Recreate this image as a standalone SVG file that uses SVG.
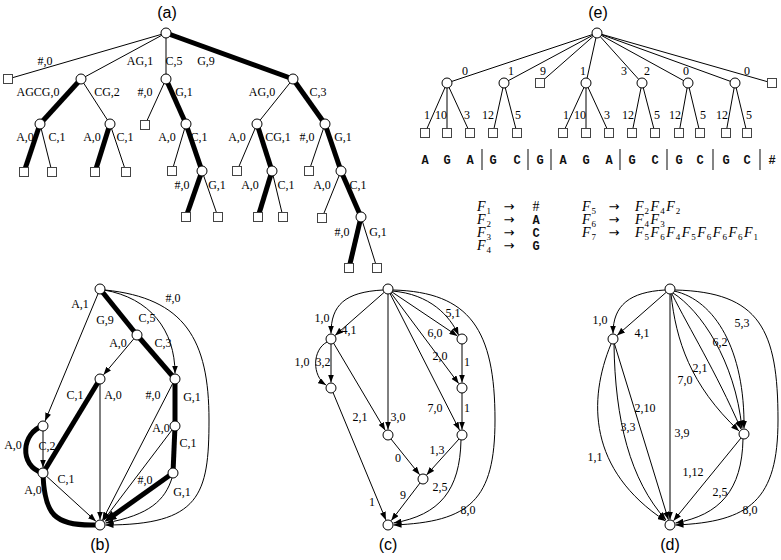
<svg xmlns="http://www.w3.org/2000/svg" width="781" height="560" viewBox="0 0 781 560">
<style>
.lbl{font-family:"Liberation Serif",serif;font-size:12px;fill:#000;text-anchor:middle}
.pan{font-family:"Liberation Sans",Arial,sans-serif;font-size:16px;text-anchor:middle;fill:#000}
.tt{font-family:"Liberation Mono",monospace;font-size:12px;font-weight:bold;text-anchor:middle;fill:#111}
.m{font-family:"Liberation Serif",serif;font-size:14px;font-style:italic;fill:#000}
.s{font-size:9px;font-style:normal}
.ar{font-family:"DejaVu Sans",sans-serif;font-size:13px;text-anchor:middle;fill:#000}
.e{stroke:#000;stroke-width:1;fill:none}
.t{stroke:#000;stroke-width:5;fill:none}
.a{marker-end:url(#ah)}
.n{fill:#fff;stroke:#000;stroke-width:1}
.sq{fill:#fff;stroke:#444;stroke-width:1}
.bar{stroke:#333;stroke-width:1.2}
</style>
<defs>
<marker id="ah" viewBox="0 0 8 6" refX="8" refY="3" markerWidth="8" markerHeight="6" orient="auto" markerUnits="userSpaceOnUse"><path d="M0,0 L8,3 L0,6 z" fill="#000"/></marker>
<marker id="ahT" viewBox="0 0 12 10" refX="2" refY="5" markerWidth="12" markerHeight="10" orient="auto" markerUnits="userSpaceOnUse"><path d="M0,0 L12,5 L0,10 z" fill="#000"/></marker>
</defs>

<g id="panel-labels">
<text class="pan" x="167" y="18">(a)</text>
<text class="pan" x="598" y="18">(e)</text>
<text class="pan" x="100" y="550">(b)</text>
<text class="pan" x="388" y="550">(c)</text>
<text class="pan" x="670" y="550">(d)</text>
</g>

<!-- (a) connectors -->
<g id="a-edges">
<line class="t" x1="166" y1="33" x2="293" y2="79"/>
<line class="t" x1="81" y1="79" x2="40" y2="124"/>
<line class="t" x1="40" y1="124" x2="24" y2="172"/>
<line class="t" x1="110" y1="124" x2="95" y2="172"/>
<line class="t" x1="166" y1="79" x2="186" y2="124"/>
<line class="t" x1="186" y1="124" x2="202" y2="171"/>
<line class="t" x1="202" y1="171" x2="186" y2="217"/>
<line class="t" x1="293" y1="79" x2="325" y2="124"/>
<line class="t" x1="257" y1="124" x2="272" y2="171"/>
<line class="t" x1="272" y1="171" x2="258" y2="217"/>
<line class="t" x1="325" y1="124" x2="341" y2="171"/>
<line class="t" x1="341" y1="171" x2="361" y2="217"/>
<line class="t" x1="361" y1="217" x2="349" y2="268"/>
<line class="e" x1="166" y1="33" x2="8" y2="79"/>
<line class="e" x1="166" y1="33" x2="81" y2="79"/>
<line class="e" x1="166" y1="33" x2="166" y2="79"/>
<line class="e" x1="81" y1="79" x2="110" y2="124"/>
<line class="e" x1="40" y1="124" x2="52" y2="172"/>
<line class="e" x1="110" y1="124" x2="126" y2="172"/>
<line class="e" x1="166" y1="79" x2="145" y2="125"/>
<line class="e" x1="186" y1="124" x2="172" y2="171"/>
<line class="e" x1="202" y1="171" x2="218" y2="217"/>
<line class="e" x1="293" y1="79" x2="257" y2="124"/>
<line class="e" x1="257" y1="124" x2="237" y2="171"/>
<line class="e" x1="272" y1="171" x2="283" y2="217"/>
<line class="e" x1="325" y1="124" x2="309" y2="171"/>
<line class="e" x1="341" y1="171" x2="322" y2="218"/>
<line class="e" x1="361" y1="217" x2="377" y2="268"/>
</g>
<g id="a-labels">
<text class="lbl" x="45" y="65">#,0</text>
<text class="lbl" x="140" y="65">AG,1</text>
<text class="lbl" x="174" y="65">C,5</text>
<text class="lbl" x="206" y="65">G,9</text>
<text class="lbl" x="38" y="96">AGCG,0</text>
<text class="lbl" x="107" y="96">CG,2</text>
<text class="lbl" x="145" y="96">#,0</text>
<text class="lbl" x="184" y="96">G,1</text>
<text class="lbl" x="262" y="96">AG,0</text>
<text class="lbl" x="318" y="96">C,3</text>
<text class="lbl" x="25" y="141">A,0</text>
<text class="lbl" x="57" y="141">C,1</text>
<text class="lbl" x="92" y="141">A,0</text>
<text class="lbl" x="125" y="141">C,1</text>
<text class="lbl" x="167" y="141">A,0</text>
<text class="lbl" x="199" y="141">C,1</text>
<text class="lbl" x="237" y="141">A,0</text>
<text class="lbl" x="278" y="141">CG,1</text>
<text class="lbl" x="307" y="141">#,0</text>
<text class="lbl" x="343" y="141">G,1</text>
<text class="lbl" x="182" y="189">#,0</text>
<text class="lbl" x="217" y="189">G,1</text>
<text class="lbl" x="250" y="189">A,0</text>
<text class="lbl" x="286" y="189">C,1</text>
<text class="lbl" x="322" y="189">A,0</text>
<text class="lbl" x="358" y="189">C,1</text>
<text class="lbl" x="342" y="236">#,0</text>
<text class="lbl" x="378" y="236">G,1</text>
</g>
<g id="a-nodes">
<circle class="n" cx="166" cy="33" r="5"/>
<circle class="n" cx="81" cy="79" r="5"/>
<circle class="n" cx="166" cy="79" r="5"/>
<circle class="n" cx="293" cy="79" r="5"/>
<circle class="n" cx="40" cy="124" r="5"/>
<circle class="n" cx="110" cy="124" r="5"/>
<circle class="n" cx="186" cy="124" r="5"/>
<circle class="n" cx="257" cy="124" r="5"/>
<circle class="n" cx="325" cy="124" r="5"/>
<circle class="n" cx="202" cy="171" r="5"/>
<circle class="n" cx="272" cy="171" r="5"/>
<circle class="n" cx="341" cy="171" r="5"/>
<circle class="n" cx="361" cy="217" r="5"/>
<rect class="sq" x="3.5" y="74.5" width="9" height="9"/>
<rect class="sq" x="19.5" y="167.5" width="9" height="9"/>
<rect class="sq" x="47.5" y="167.5" width="9" height="9"/>
<rect class="sq" x="90.5" y="167.5" width="9" height="9"/>
<rect class="sq" x="121.5" y="167.5" width="9" height="9"/>
<rect class="sq" x="140.5" y="120.5" width="9" height="9"/>
<rect class="sq" x="167.5" y="166.5" width="9" height="9"/>
<rect class="sq" x="181.5" y="212.5" width="9" height="9"/>
<rect class="sq" x="213.5" y="212.5" width="9" height="9"/>
<rect class="sq" x="232.5" y="166.5" width="9" height="9"/>
<rect class="sq" x="253.5" y="212.5" width="9" height="9"/>
<rect class="sq" x="278.5" y="212.5" width="9" height="9"/>
<rect class="sq" x="304.5" y="166.5" width="9" height="9"/>
<rect class="sq" x="317.5" y="213.5" width="9" height="9"/>
<rect class="sq" x="344.5" y="263.5" width="9" height="9"/>
<rect class="sq" x="372.5" y="263.5" width="9" height="9"/>
</g>

<!-- (e) -->
<g id="e-edges">
<line class="e" x1="597" y1="33" x2="447" y2="83"/>
<line class="e" x1="597" y1="33" x2="504" y2="83"/>
<line class="e" x1="597" y1="33" x2="540" y2="83"/>
<line class="e" x1="597" y1="33" x2="586" y2="83"/>
<line class="e" x1="597" y1="33" x2="642" y2="83"/>
<line class="e" x1="597" y1="33" x2="688" y2="83"/>
<line class="e" x1="597" y1="33" x2="735" y2="83"/>
<line class="e" x1="597" y1="33" x2="772" y2="83"/>
<line class="e" x1="447" y1="83" x2="425" y2="133"/>
<line class="e" x1="447" y1="83" x2="447" y2="133"/>
<line class="e" x1="447" y1="83" x2="470" y2="133"/>
<line class="e" x1="504" y1="83" x2="493" y2="133"/>
<line class="e" x1="504" y1="83" x2="517" y2="133"/>
<line class="e" x1="586" y1="83" x2="563" y2="133"/>
<line class="e" x1="586" y1="83" x2="586" y2="133"/>
<line class="e" x1="586" y1="83" x2="609" y2="133"/>
<line class="e" x1="642" y1="83" x2="632" y2="133"/>
<line class="e" x1="642" y1="83" x2="655" y2="133"/>
<line class="e" x1="688" y1="83" x2="679" y2="133"/>
<line class="e" x1="688" y1="83" x2="700" y2="133"/>
<line class="e" x1="735" y1="83" x2="726" y2="133"/>
<line class="e" x1="735" y1="83" x2="747" y2="133"/>
</g>
<g id="e-labels">
<text class="lbl" x="465" y="75">0</text>
<text class="lbl" x="511" y="75">1</text>
<text class="lbl" x="543" y="75">9</text>
<text class="lbl" x="583" y="75">1</text>
<text class="lbl" x="624" y="75">3</text>
<text class="lbl" x="647" y="75">2</text>
<text class="lbl" x="686" y="75">0</text>
<text class="lbl" x="747" y="75">0</text>
<text class="lbl" x="427" y="119">1</text>
<text class="lbl" x="441" y="119">10</text>
<text class="lbl" x="467" y="119">3</text>
<text class="lbl" x="488" y="119">12</text>
<text class="lbl" x="518" y="119">5</text>
<text class="lbl" x="566" y="119">1</text>
<text class="lbl" x="580" y="119">10</text>
<text class="lbl" x="607" y="119">3</text>
<text class="lbl" x="628" y="119">12</text>
<text class="lbl" x="657" y="119">5</text>
<text class="lbl" x="675" y="119">12</text>
<text class="lbl" x="703" y="119">5</text>
<text class="lbl" x="722" y="119">12</text>
<text class="lbl" x="749" y="119">5</text>
</g>
<g id="e-nodes">
<circle class="n" cx="597" cy="33" r="5"/>
<circle class="n" cx="447" cy="83" r="5"/>
<circle class="n" cx="504" cy="83" r="5"/>
<circle class="n" cx="586" cy="83" r="5"/>
<circle class="n" cx="642" cy="83" r="5"/>
<circle class="n" cx="688" cy="83" r="5"/>
<circle class="n" cx="735" cy="83" r="5"/>
<rect class="sq" x="535.5" y="78.5" width="9" height="9"/>
<rect class="sq" x="767.5" y="78.5" width="9" height="9"/>
<rect class="sq" x="420.5" y="128.5" width="9" height="9"/>
<rect class="sq" x="442.5" y="128.5" width="9" height="9"/>
<rect class="sq" x="465.5" y="128.5" width="9" height="9"/>
<rect class="sq" x="488.5" y="128.5" width="9" height="9"/>
<rect class="sq" x="512.5" y="128.5" width="9" height="9"/>
<rect class="sq" x="558.5" y="128.5" width="9" height="9"/>
<rect class="sq" x="581.5" y="128.5" width="9" height="9"/>
<rect class="sq" x="604.5" y="128.5" width="9" height="9"/>
<rect class="sq" x="627.5" y="128.5" width="9" height="9"/>
<rect class="sq" x="650.5" y="128.5" width="9" height="9"/>
<rect class="sq" x="674.5" y="128.5" width="9" height="9"/>
<rect class="sq" x="695.5" y="128.5" width="9" height="9"/>
<rect class="sq" x="721.5" y="128.5" width="9" height="9"/>
<rect class="sq" x="742.5" y="128.5" width="9" height="9"/>
</g>
<g id="e-sequence">
<text class="tt" x="425" y="164">A</text>
<text class="tt" x="447" y="164">G</text>
<text class="tt" x="470" y="164">A</text>
<line class="bar" x1="482" y1="149" x2="482" y2="170"/>
<text class="tt" x="493" y="164">G</text>
<text class="tt" x="517" y="164">C</text>
<line class="bar" x1="528" y1="149" x2="528" y2="170"/>
<text class="tt" x="540" y="164">G</text>
<line class="bar" x1="551" y1="149" x2="551" y2="170"/>
<text class="tt" x="563" y="164">A</text>
<text class="tt" x="586" y="164">G</text>
<text class="tt" x="609" y="164">A</text>
<line class="bar" x1="620" y1="149" x2="620" y2="170"/>
<text class="tt" x="632" y="164">G</text>
<text class="tt" x="655" y="164">C</text>
<line class="bar" x1="667" y1="149" x2="667" y2="170"/>
<text class="tt" x="679" y="164">G</text>
<text class="tt" x="700" y="164">C</text>
<line class="bar" x1="713" y1="149" x2="713" y2="170"/>
<text class="tt" x="726" y="164">G</text>
<text class="tt" x="747" y="164">C</text>
<line class="bar" x1="760" y1="149" x2="760" y2="170"/>
<text class="tt" x="772" y="164">#</text>
</g>
<g id="grammar">
<text class="m" x="477" y="211">F<tspan class="s" dx="1" dy="2.5">1</tspan></text>
<text class="ar" x="509" y="211">→</text>
<text class="lbl" x="536" y="211" style="font-size:14px">#</text>
<text class="m" x="477" y="224">F<tspan class="s" dx="1" dy="2.5">2</tspan></text>
<text class="ar" x="509" y="224">→</text>
<text class="tt" x="536" y="224">A</text>
<text class="m" x="477" y="237">F<tspan class="s" dx="1" dy="2.5">3</tspan></text>
<text class="ar" x="509" y="237">→</text>
<text class="tt" x="536" y="237">C</text>
<text class="m" x="477" y="250">F<tspan class="s" dx="1" dy="2.5">4</tspan></text>
<text class="ar" x="509" y="250">→</text>
<text class="tt" x="536" y="250">G</text>
<text class="m" x="582" y="211">F<tspan class="s" dx="1" dy="2.5">5</tspan></text>
<text class="ar" x="614" y="211">→</text>
<text class="m" x="635" y="211">F<tspan class="s" dx="1" dy="2.5">2</tspan><tspan dx="1.5" dy="-2.5">F</tspan><tspan class="s" dx="1" dy="2.5">4</tspan><tspan dx="1.5" dy="-2.5">F</tspan><tspan class="s" dx="1" dy="2.5">2</tspan></text>
<text class="m" x="582" y="224">F<tspan class="s" dx="1" dy="2.5">6</tspan></text>
<text class="ar" x="614" y="224">→</text>
<text class="m" x="635" y="224">F<tspan class="s" dx="1" dy="2.5">4</tspan><tspan dx="1.5" dy="-2.5">F</tspan><tspan class="s" dx="1" dy="2.5">3</tspan></text>
<text class="m" x="582" y="237">F<tspan class="s" dx="1" dy="2.5">7</tspan></text>
<text class="ar" x="614" y="237">→</text>
<text class="m" x="635" y="237">F<tspan class="s" dx="1" dy="2.5">5</tspan><tspan dx="1.5" dy="-2.5">F</tspan><tspan class="s" dx="1" dy="2.5">6</tspan><tspan dx="1.5" dy="-2.5">F</tspan><tspan class="s" dx="1" dy="2.5">4</tspan><tspan dx="1.5" dy="-2.5">F</tspan><tspan class="s" dx="1" dy="2.5">5</tspan><tspan dx="1.5" dy="-2.5">F</tspan><tspan class="s" dx="1" dy="2.5">6</tspan><tspan dx="1.5" dy="-2.5">F</tspan><tspan class="s" dx="1" dy="2.5">6</tspan><tspan dx="1.5" dy="-2.5">F</tspan><tspan class="s" dx="1" dy="2.5">6</tspan><tspan dx="1.5" dy="-2.5">F</tspan><tspan class="s" dx="1" dy="2.5">1</tspan></text>
</g>

<!-- (b) -->
<g id="b-edges">
<line class="t" x1="100" y1="289" x2="137" y2="335"/>
<line class="t" x1="137" y1="335" x2="175" y2="379"/>
<line class="t" x1="175" y1="379" x2="175" y2="426"/>
<line class="t" x1="175" y1="426" x2="173" y2="473"/>
<line class="t" x1="100" y1="379" x2="43" y2="473"/>
<path class="t" d="M43,426 C22,432 18,466 43,473"/>
<path class="t" d="M43,473 C44,515 55,526 95,525"/>
<line class="t" x1="173" y1="473" x2="112.6" y2="516" marker-end="url(#ahT)"/>
<line class="e a" x1="100" y1="289" x2="45.1" y2="420.9"/>
<path class="e a" d="M104,290 C150,298 175,330 175,373.5"/>
<path class="e a" d="M105,290 C185,298 209,340 209,420 C209,495 200,525 105.5,525"/>
<line class="e a" x1="137" y1="335" x2="103.5" y2="374.8"/>
<line class="e a" x1="100" y1="384" x2="100" y2="519.5"/>
<line class="e a" x1="43" y1="431" x2="43" y2="467.5"/>
<line class="e a" x1="43" y1="473" x2="95.9" y2="521.3"/>
<line class="e a" x1="175" y1="379" x2="102.5" y2="520.1"/>
<line class="e a" x1="175" y1="426" x2="103.3" y2="520.6"/>
<path class="e a" d="M172,478 C165,500 150,515 105.5,523"/>
</g>
<g id="b-labels">
<text class="lbl" x="80" y="308">A,1</text>
<text class="lbl" x="105" y="324">G,9</text>
<text class="lbl" x="147" y="322">C,5</text>
<text class="lbl" x="173" y="302">#,0</text>
<text class="lbl" x="118" y="347">A,0</text>
<text class="lbl" x="163" y="347">C,3</text>
<text class="lbl" x="75" y="399">C,1</text>
<text class="lbl" x="113" y="399">A,0</text>
<text class="lbl" x="153" y="399">#,0</text>
<text class="lbl" x="192" y="401">G,1</text>
<text class="lbl" x="161" y="432">A,0</text>
<text class="lbl" x="188" y="447">C,1</text>
<text class="lbl" x="47" y="450">C,2</text>
<text class="lbl" x="13" y="449">A,0</text>
<text class="lbl" x="66" y="483">C,1</text>
<text class="lbl" x="145" y="484">#,0</text>
<text class="lbl" x="33" y="494">A,0</text>
<text class="lbl" x="182" y="496">G,1</text>
</g>
<g id="b-nodes">
<circle class="n" cx="100" cy="289" r="5"/>
<circle class="n" cx="137" cy="335" r="5"/>
<circle class="n" cx="100" cy="379" r="5"/>
<circle class="n" cx="175" cy="379" r="5"/>
<circle class="n" cx="43" cy="426" r="5"/>
<circle class="n" cx="175" cy="426" r="5"/>
<circle class="n" cx="43" cy="473" r="5"/>
<circle class="n" cx="173" cy="473" r="5"/>
<circle class="n" cx="100" cy="525" r="5"/>
</g>

<!-- (c) -->
<g id="c-edges">
<path class="e a" d="M383,290 C345,292 331,305 331,333.5"/>
<line class="e a" x1="384.2" y1="292.3" x2="335.1" y2="335.4"/>
<line class="e a" x1="388" y1="294" x2="388" y2="429.5"/>
<path class="e a" d="M392,291 C430,294 450,316 458.5,335"/>
<line class="e a" x1="392" y1="292" x2="457.4" y2="335.9"/>
<line class="e a" x1="391" y1="293" x2="458.7" y2="383.6"/>
<line class="e a" x1="390" y1="293.5" x2="459.5" y2="430.1"/>
<path class="e a" d="M393,290 C470,292 495,330 495,420 C495,500 470,522 393.5,525"/>
<line class="e a" x1="331" y1="344" x2="331" y2="382.5"/>
<path class="e a" d="M327,342 C312,350 312,376 326,385"/>
<line class="e a" x1="333.5" y1="343" x2="385.2" y2="430.3"/>
<line class="e a" x1="462" y1="344" x2="462" y2="382.5"/>
<line class="e a" x1="462" y1="393" x2="462" y2="429.5"/>
<line class="e a" x1="391" y1="439" x2="419.6" y2="474.7"/>
<line class="e a" x1="459" y1="439" x2="426.6" y2="474.9"/>
<path class="e a" d="M461,440 C460,490 440,515 393.5,523"/>
<line class="e a" x1="420" y1="483" x2="391.3" y2="520.6"/>
<line class="e a" x1="333" y1="392.5" x2="385.9" y2="519.9"/>
</g>
<g id="c-labels">
<text class="lbl" x="322" y="322">1,0</text>
<text class="lbl" x="349" y="334">4,1</text>
<text class="lbl" x="302" y="366">1,0</text>
<text class="lbl" x="323" y="366">3,2</text>
<text class="lbl" x="360" y="421">2,1</text>
<text class="lbl" x="398" y="421">3,0</text>
<text class="lbl" x="435" y="412">7,0</text>
<text class="lbl" x="453" y="317">5,1</text>
<text class="lbl" x="435" y="337">6,0</text>
<text class="lbl" x="440" y="360">2,0</text>
<text class="lbl" x="467" y="366">1</text>
<text class="lbl" x="467" y="412">1</text>
<text class="lbl" x="437" y="454">1,3</text>
<text class="lbl" x="398" y="462">0</text>
<text class="lbl" x="440" y="491">2,5</text>
<text class="lbl" x="403" y="499">9</text>
<text class="lbl" x="372" y="506">1</text>
<text class="lbl" x="468" y="514">8,0</text>
</g>
<g id="c-nodes">
<circle class="n" cx="388" cy="289" r="5"/>
<circle class="n" cx="331" cy="339" r="5"/>
<circle class="n" cx="462" cy="339" r="5"/>
<circle class="n" cx="331" cy="388" r="5"/>
<circle class="n" cx="462" cy="388" r="5"/>
<circle class="n" cx="388" cy="435" r="5"/>
<circle class="n" cx="462" cy="435" r="5"/>
<circle class="n" cx="423" cy="479" r="5"/>
<circle class="n" cx="388" cy="525" r="5"/>
</g>

<!-- (d) -->
<g id="d-edges">
<path class="e a" d="M665,290 C630,292 613,305 613,333.5"/>
<line class="e a" x1="666.2" y1="292.3" x2="617.1" y2="335.4"/>
<line class="e a" x1="670" y1="294" x2="670" y2="519.5"/>
<path class="e a" d="M671,294 C676,340 690,385 739,431"/>
<path class="e a" d="M672,294 C690,330 715,370 741,429"/>
<path class="e a" d="M673,293 C700,310 735,360 742,428.5"/>
<path class="e a" d="M674,291 C715,300 745,350 744,428.5"/>
<path class="e a" d="M675,290 C760,292 778,330 778,420 C778,500 750,522 675.5,525"/>
<path class="e a" d="M611,344 C588,400 588,470 665.5,521"/>
<path class="e a" d="M614,344 C615,420 630,480 666,520"/>
<line class="e a" x1="614.5" y1="344" x2="668.4" y2="519.7"/>
<line class="e a" x1="741" y1="438" x2="673.5" y2="520.7"/>
<path class="e a" d="M743,439 C742,490 720,515 675.5,523"/>
</g>
<g id="d-labels">
<text class="lbl" x="600" y="324">1,0</text>
<text class="lbl" x="642" y="337">4,1</text>
<text class="lbl" x="742" y="327">5,3</text>
<text class="lbl" x="720" y="346">6,2</text>
<text class="lbl" x="700" y="372">2,1</text>
<text class="lbl" x="685" y="384">7,0</text>
<text class="lbl" x="645" y="412">2,10</text>
<text class="lbl" x="628" y="431">3,3</text>
<text class="lbl" x="682" y="437">3,9</text>
<text class="lbl" x="595" y="461">1,1</text>
<text class="lbl" x="693" y="476">1,12</text>
<text class="lbl" x="720" y="496">2,5</text>
<text class="lbl" x="750" y="514">8,0</text>
</g>
<g id="d-nodes">
<circle class="n" cx="670" cy="289" r="5"/>
<circle class="n" cx="613" cy="339" r="5"/>
<circle class="n" cx="744" cy="434" r="5"/>
<circle class="n" cx="670" cy="525" r="5"/>
</g>
</svg>
